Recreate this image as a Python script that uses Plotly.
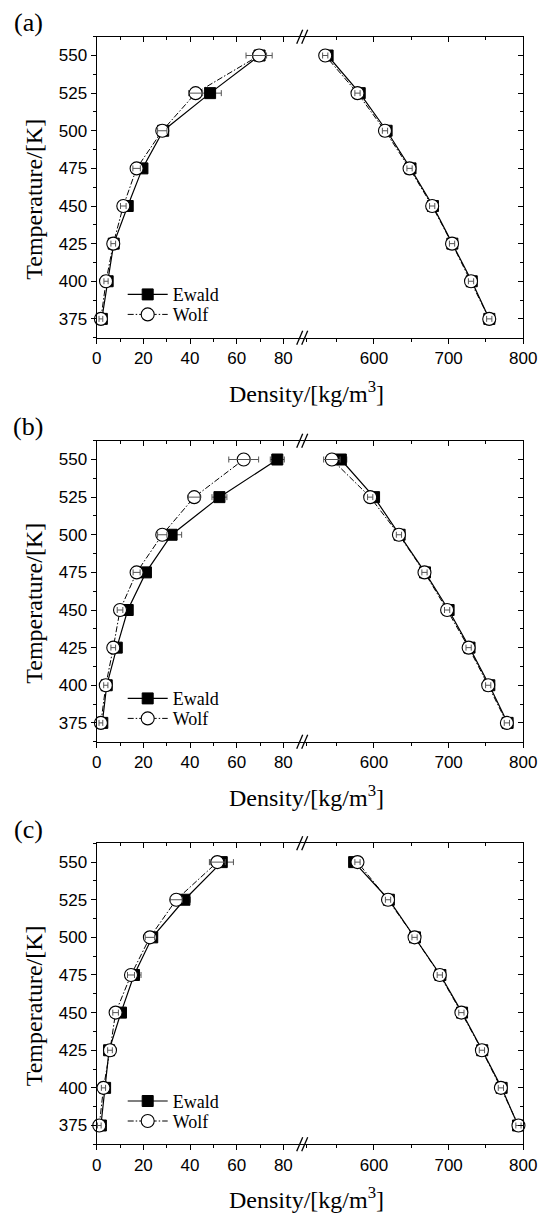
import plotly.graph_objects as go

# ---------------- data ----------------
T = [375, 400, 425, 450, 475, 500, 525, 550]

# panel (a)
ewald_gas_a = [2.2, 4.7, 7.3, 13.3, 19.6, 28.5, 48.6, 69.8]
wolf_gas_a = [1.8, 4.0, 7.1, 11.4, 17.1, 28.1, 42.4, 69.6]
ewald_liq_a = [754.5, 731, 705, 679, 649, 617, 581, 538]
wolf_liq_a = [754.4, 730, 704.6, 678, 647.7, 614.8, 578, 534.8]
err_ewald_gas_a = [0.8, 0.9, 1.0, 1.2, 1.5, 1.8, 4.8, 3.0]
err_wolf_gas_a = [0.8, 0.9, 1.0, 1.2, 1.6, 2.0, 3.0, 5.6]
err_ewald_liq_a = [3.5, 3.5, 3.5, 3.5, 3.5, 3.5, 3.5, 3.5]
err_wolf_liq_a = [3.5, 3.5, 3.5, 3.5, 3.5, 3.5, 3.5, 3.5]

# panel (b)
ewald_gas_b = [2.4, 4.3, 8.6, 13.3, 21.1, 32.1, 52.6, 77.4]
wolf_gas_b = [1.8, 3.9, 7.1, 10.0, 17.1, 28.1, 41.8, 63.0]
ewald_liq_b = [779, 754.5, 728, 700, 668.4, 634.4, 600.2, 555.7]
wolf_liq_b = [778, 753, 726.8, 698, 667.7, 633.5, 595, 543.7]
err_ewald_gas_b = [0.8, 1.0, 1.0, 1.2, 1.5, 4.3, 3.2, 3.0]
err_wolf_gas_b = [0.8, 0.9, 1.0, 1.2, 1.5, 2.0, 2.5, 6.4]
err_ewald_liq_b = [3.5, 3.5, 3.5, 3.5, 3.5, 3.5, 3.5, 8.0]
err_wolf_liq_b = [3.5, 3.5, 3.5, 3.5, 3.5, 3.5, 3.5, 11.0]

# panel (c)
ewald_gas_c = [1.8, 3.6, 5.3, 10.4, 16.0, 23.8, 37.6, 53.6]
wolf_gas_c = [1.1, 2.9, 5.7, 8.1, 14.7, 22.8, 34.1, 51.7]
ewald_liq_c = [793, 771, 745, 718, 689, 655, 620, 573.5]
wolf_liq_c = [793.5, 770, 744.6, 717.1, 688.2, 654.4, 618.9, 578]
err_ewald_gas_c = [0.8, 0.9, 1.0, 1.2, 3.0, 2.0, 2.5, 5.0]
err_wolf_gas_c = [0.8, 0.9, 1.0, 1.2, 1.5, 2.0, 2.5, 3.4]
err_ewald_liq_c = [3.5, 3.5, 3.5, 3.5, 3.5, 3.5, 3.5, 3.5]
err_wolf_liq_c = [3.5, 3.5, 3.5, 3.5, 3.5, 3.5, 3.5, 3.5]

panel_labels = ["(a)", "(b)", "(c)"]
gas_ticks = [0, 20, 40, 60, 80]
liq_ticks = [600, 700, 800]
T_ticks = [375, 400, 425, 450, 475, 500, 525, 550]
series_names = ["Ewald", "Wolf"]
x_title = "Density/[kg/m<sup>3</sup>]"
y_title = "Temperature/[K]"

# ---------------- layout geometry ----------------
W, H = 542, 1216
FRAME_L, FRAME_BRK, FRAME_R = 96.7, 306.7, 523.3
PANEL_TOPS = [36.7, 440.7, 843.3]
PANEL_H = 301
GAS_RANGE = [0, 90]
LIQ_RANGE = [510, 800]
T_RANGE = [362.5, 562.5]

SANS = "Liberation Sans"
SERIF = "Liberation Serif"
ERR_COLOR = "#555555"


def px(x):
    return x / W


def py(y):
    return 1 - y / H


def ax_name(kind, n):
    return f"{kind}axis" if n == 1 else f"{kind}axis{n}"


def ax_ref(kind, n):
    return kind if n == 1 else f"{kind}{n}"


panels = [
    (ewald_gas_a, wolf_gas_a, ewald_liq_a, wolf_liq_a,
     err_ewald_gas_a, err_wolf_gas_a, err_ewald_liq_a, err_wolf_liq_a),
    (ewald_gas_b, wolf_gas_b, ewald_liq_b, wolf_liq_b,
     err_ewald_gas_b, err_wolf_gas_b, err_ewald_liq_b, err_wolf_liq_b),
    (ewald_gas_c, wolf_gas_c, ewald_liq_c, wolf_liq_c,
     err_ewald_gas_c, err_wolf_gas_c, err_ewald_liq_c, err_wolf_liq_c),
]

fig = go.Figure()
layout = dict(
    width=W, height=H,
    margin=dict(l=0, r=0, t=0, b=0, pad=0, autoexpand=False),
    paper_bgcolor="white", plot_bgcolor="white",
    showlegend=True,
)
annotations = []
shapes = []

tickfont = dict(family=SANS, size=17, color="black")

for p, data in enumerate(panels):
    eg, wg, el, wl, e_eg, e_wg, e_el, e_wl = data
    top = PANEL_TOPS[p]
    bottom = top + PANEL_H
    ydom = [py(bottom), py(top)]
    xl, xr, xlt, xrt = 4 * p + 1, 4 * p + 2, 4 * p + 3, 4 * p + 4
    yl, yr = 2 * p + 1, 2 * p + 2
    leg_e = "legend" if 2 * p + 1 == 1 else f"legend{2 * p + 1}"
    leg_w = f"legend{2 * p + 2}"

    common_x = dict(showgrid=False, zeroline=False, showline=True,
                    linecolor="black", linewidth=1.2, tickcolor="black",
                    tickwidth=1.2, automargin=False)
    layout[ax_name("x", xl)] = dict(
        common_x, domain=[px(FRAME_L), px(FRAME_BRK)], anchor=ax_ref("y", yl),
        range=GAS_RANGE, tickmode="array", tickvals=gas_ticks, ticks="outside",
        ticklen=5, tickfont=tickfont,
        minor=dict(dtick=10, tick0=0, ticks="outside", ticklen=3,
                   tickcolor="black", tickwidth=1.2),
    )
    layout[ax_name("x", xr)] = dict(
        common_x, domain=[px(FRAME_BRK), px(FRAME_R)], anchor=ax_ref("y", yr),
        range=LIQ_RANGE, tickmode="array", tickvals=liq_ticks, ticks="outside",
        ticklen=5, tickfont=tickfont,
        minor=dict(dtick=50, tick0=0, ticks="outside", ticklen=3,
                   tickcolor="black", tickwidth=1.2),
    )
    layout[ax_name("x", xlt)] = dict(
        common_x, overlaying=ax_ref("x", xl), side="top", anchor=ax_ref("y", yl),
        range=GAS_RANGE, tickmode="array", tickvals=gas_ticks, ticks="inside",
        ticklen=5, showticklabels=False,
        minor=dict(dtick=10, tick0=0, ticks="inside", ticklen=3,
                   tickcolor="black", tickwidth=1.2),
    )
    layout[ax_name("x", xrt)] = dict(
        common_x, overlaying=ax_ref("x", xr), side="top", anchor=ax_ref("y", yr),
        range=LIQ_RANGE, tickmode="array", tickvals=liq_ticks, ticks="inside",
        ticklen=5, showticklabels=False,
        minor=dict(dtick=50, tick0=0, ticks="inside", ticklen=3,
                   tickcolor="black", tickwidth=1.2),
    )
    layout[ax_name("y", yl)] = dict(
        common_x, domain=ydom, anchor=ax_ref("x", xl), range=T_RANGE,
        tickmode="array", tickvals=T_ticks, ticks="outside", ticklen=5,
        tickfont=tickfont,
        minor=dict(dtick=12.5, tick0=0, ticks="outside", ticklen=3,
                   tickcolor="black", tickwidth=1.2),
    )
    layout[ax_name("y", yr)] = dict(
        common_x, domain=ydom, anchor=ax_ref("x", xr), range=T_RANGE,
        side="right", tickmode="array", tickvals=T_ticks, ticks="inside",
        ticklen=5, showticklabels=False,
        minor=dict(dtick=12.5, tick0=0, ticks="inside", ticklen=3,
                   tickcolor="black", tickwidth=1.2),
    )

    # legends (one per series so each row can be placed)
    for leg, row in ((leg_e, 258), (leg_w, 278)):
        layout[leg] = dict(
            x=px(FRAME_L + 26), xanchor="left",
            y=py(top + row), yanchor="middle",
            bgcolor="rgba(0,0,0,0)", borderwidth=0,
            font=dict(family=SERIF, size=18, color="black"),
            itemwidth=40, tracegroupgap=0,
        )

    for side, xa, ya, e_vals, w_vals, e_err, w_err in (
        ("gas", xl, yl, eg, wg, e_eg, e_wg),
        ("liq", xr, yr, el, wl, e_el, e_wl),
    ):
        show = side == "gas"
        fig.add_trace(go.Scatter(
            x=e_vals, y=T, mode="lines+markers", name=series_names[0],
            xaxis=ax_ref("x", xa), yaxis=ax_ref("y", ya),
            line=dict(color="black", width=1.2),
            marker=dict(symbol="square", size=11, color="black",
                        line=dict(color="black", width=1)),
            error_x=dict(type="data", array=e_err, visible=True,
                         color=ERR_COLOR, thickness=1, width=3),
            showlegend=show, legend=leg_e, cliponaxis=False,
        ))
        fig.add_trace(go.Scatter(
            x=w_vals, y=T, mode="lines+markers", name=series_names[1],
            xaxis=ax_ref("x", xa), yaxis=ax_ref("y", ya),
            line=dict(color="black", width=1, dash="6px,2px,1.5px,2px"),
            marker=dict(symbol="circle", size=13, color="white",
                        line=dict(color="black", width=1.1)),
            showlegend=show, legend=leg_w, cliponaxis=False,
        ))
        # Wolf error bars drawn above the open circles
        fig.add_trace(go.Scatter(
            x=w_vals, y=T, mode="markers",
            xaxis=ax_ref("x", xa), yaxis=ax_ref("y", ya),
            marker=dict(size=1, color="rgba(0,0,0,0)"),
            error_x=dict(type="data", array=w_err, visible=True,
                         color=ERR_COLOR, thickness=1, width=3),
            showlegend=False, hoverinfo="skip", cliponaxis=False,
        ))

    # empty traces so the top overlay axes are rendered
    for xa, ya in ((xlt, yl), (xrt, yr)):
        fig.add_trace(go.Scatter(x=[], y=[], xaxis=ax_ref("x", xa),
                                 yaxis=ax_ref("y", ya), showlegend=False,
                                 hoverinfo="skip"))

    # axis break marks "//" at top and bottom
    for yanc in (0, 1):
        for off in (-7, -2):
            shapes.append(dict(
                type="line", xref=f"{ax_ref('x', xr)} domain",
                yref=f"{ax_ref('y', yl)} domain",
                xsizemode="pixel", xanchor=0, x0=off - 3, x1=off + 3,
                ysizemode="pixel", yanchor=yanc, y0=-7, y1=7,
                line=dict(color="black", width=1.3),
            ))

    # titles
    annotations.append(dict(
        text=x_title, xref="paper", yref="paper",
        x=px((FRAME_L + FRAME_R) / 2 - 4), y=py(bottom + 54),
        xanchor="center", yanchor="middle", showarrow=False,
        font=dict(family=SERIF, size=24, color="black"),
    ))
    annotations.append(dict(
        text=y_title, xref="paper", yref="paper",
        x=px(34), y=py(top + 163), textangle=-90,
        xanchor="center", yanchor="middle", showarrow=False,
        font=dict(family=SERIF, size=24, color="black"),
    ))
    annotations.append(dict(
        text=panel_labels[p], xref="paper", yref="paper",
        x=px(28), y=py(top - 14),
        xanchor="center", yanchor="middle", showarrow=False,
        font=dict(family=SERIF, size=26, color="black"),
    ))

layout["annotations"] = annotations
layout["shapes"] = shapes
fig.update_layout(**layout)
fig.write_html(
    "out.html",
    config={"displayModeBar": False},
    post_script="document.body.style.margin='0px';",
)
